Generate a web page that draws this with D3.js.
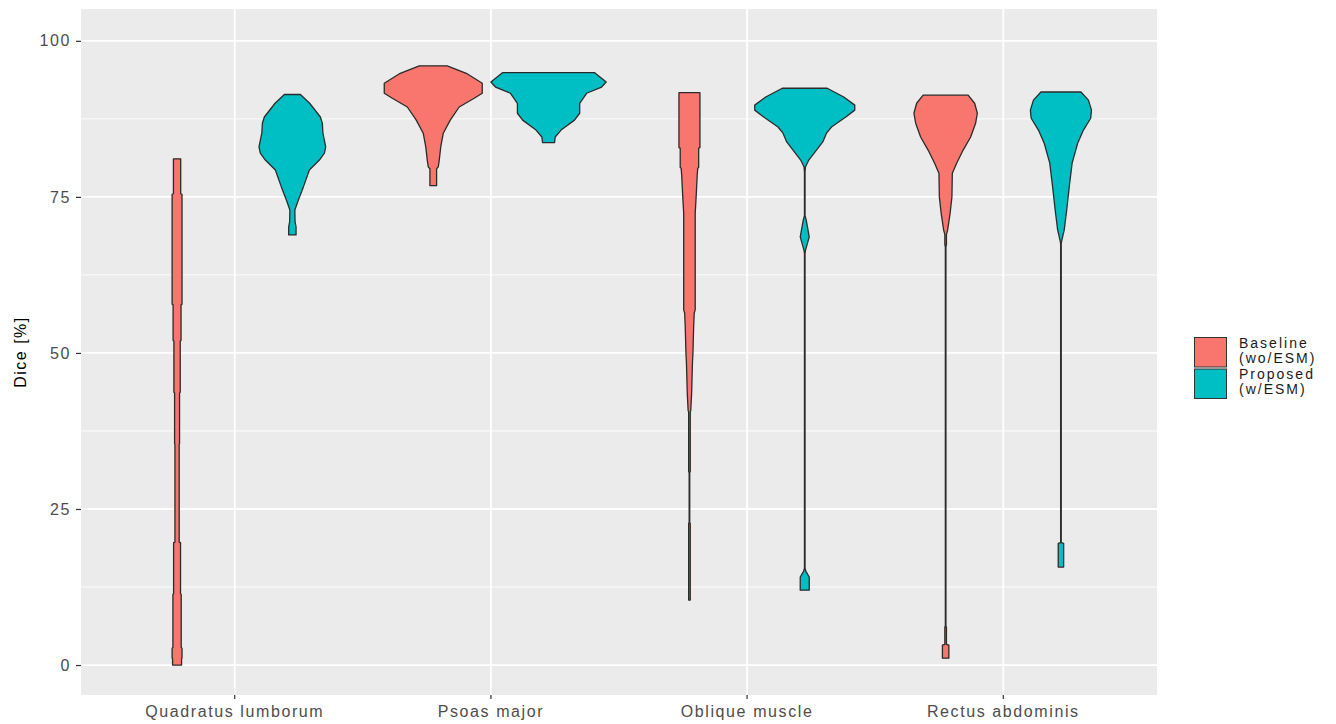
<!DOCTYPE html>
<html>
<head>
<meta charset="utf-8">
<script src="https://cdn.jsdelivr.net/npm/d3@7"></script>
<style>
  body { margin: 0; background: #fff; }
  text { font-family: "Liberation Sans", Arial, sans-serif; }
</style>
</head>
<body>
<div id="chart"></div>
<script>
// categories and groups
const muscles = ["Quadratus lumborum", "Psoas major", "Oblique muscle", "Rectus abdominis"];
const groups = ["Baseline\n(wo/ESM)", "Proposed\n(w/ESM)"];
const groupColors = ["#F8766D", "#00BFC4"];
const yTicks = [0, 25, 50, 75, 100];
const yMinor = [12.5, 37.5, 62.5, 87.5];

// violin profiles: [dice %, relative density (100 = widest)]
const quadratusBase = [[81.1,6.3],[75.5,6.3],[75.4,8.6],[57.8,8.6],[57.7,6.9],[52.0,6.9],[51.9,5.5],[43.7,5.5],[43.6,4.3],[35.5,4.3],[35.4,3.7],[19.7,3.7],[19.6,6.0],[11.4,6.0],[11.3,7.2],[2.8,7.2],[2.7,8.6],[1.1,8.6],[1.0,7.8],[0,7.8]];
const quadratusProp = [[91.4,13.9],[90.0,30],[87.8,48.6],[86.8,52],[85.2,53],[83.0,57.9],[82.0,55.6],[80.9,46.9],[79.3,29.5],[76.6,19.1],[74.5,10.4],[72.9,4.3],[71.0,4.7],[70.2,6.4],[68.9,6.4]];
const psoasBase = [[96.0,24.3],[94.8,57.3],[93.2,85],[91.6,85],[90.8,71],[89.4,45],[87.3,29.5],[85.2,17.4],[83.0,13],[80.9,10.4],[79.8,8.7],[79.5,5.8],[76.8,5.8]];
const psoasProp = [[94.9,80],[93.4,100],[92.6,92],[91.6,66],[90.0,54],[88.4,54],[87.3,45],[85.7,21.7],[84.6,11.6],[83.7,10.4]];
const obliqueBase = [[91.7,18.2],[82.9,18.2],[82.8,16],[79.7,16],[79.6,14.4],[78.5,13.5],[75.0,11.6],[72.4,10],[56.9,10],[56.4,8.3],[54.2,7.3],[50.0,6.1],[48.4,5.2],[43.6,3.8],[40.8,2.3],[40.5,1.4],[31.0,1.4],[30.8,0.5],[22.8,0.5],[22.7,1.4],[10.4,1.4]];
const obliqueProp = [[92.4,39],[91.0,67.7],[89.7,86.8],[88.9,86.8],[87.8,71.2],[86.2,46.4],[85.2,37.7],[83.8,31.3],[82.5,20.3],[80.9,7],[79.8,1.2],[79.0,0.5],[72.0,0.5],[71.3,2.5],[68.6,7.8],[66.5,1.5],[66.0,0.5],[15.5,0.5],[15.0,2],[14.1,7.8],[12.0,7.8]];
const rectusBase = [[91.3,39],[90.0,50.3],[88.4,55],[86.8,52],[84.6,43.4],[82.5,30.4],[80.4,19.1],[78.8,11.6],[75.0,10.9],[72.4,7.8],[69.7,3.5],[69.0,1.4],[67.3,1.4],[67.0,0.5],[6.2,0.5],[6.1,1.4],[3.3,1.4],[3.2,5.6],[1.1,5.6]];
const rectusProp = [[91.8,34.7],[90.5,47.7],[88.9,53],[87.6,51.6],[85.7,39],[83.6,29],[80.4,19.4],[76.6,14.4],[72.9,10],[69.7,5.7],[68.1,1.7],[67.5,0.5],[19.6,0.5],[19.5,4.7],[15.7,4.7]];

const violins = [
    { muscle: muscles[0], group: 0, profile: quadratusBase },
    { muscle: muscles[0], group: 1, profile: quadratusProp },
    { muscle: muscles[1], group: 0, profile: psoasBase },
    { muscle: muscles[1], group: 1, profile: psoasProp },
    { muscle: muscles[2], group: 0, profile: obliqueBase },
    { muscle: muscles[2], group: 1, profile: obliqueProp },
    { muscle: muscles[3], group: 0, profile: rectusBase },
    { muscle: muscles[3], group: 1, profile: rectusProp }
];

const width = 1336, height = 724;
const panel = { left: 81, right: 1157, top: 9, bottom: 695 };

const svg = d3.select("#chart")
    .append("svg")
    .attr("width", width)
    .attr("height", height);

// scales
const xScale = d3.scaleBand()
    .domain(muscles)
    .range([panel.left, panel.right])
    .paddingInner(0)
    .paddingOuter(0.1);

const subScale = d3.scaleBand()
    .domain([0, 1])
    .range([0, xScale.bandwidth()])
    .paddingInner(0)
    .paddingOuter(0.111);

const yScale = d3.scaleLinear()
    .domain([-4.8, 105.1])
    .range([panel.bottom, panel.top]);

const widthScale = d3.scaleLinear()
    .domain([0, 100])
    .range([0, subScale.bandwidth() / 2]);

// panel background and grid
svg.append("rect")
    .attr("x", panel.left)
    .attr("y", panel.top)
    .attr("width", panel.right - panel.left)
    .attr("height", panel.bottom - panel.top)
    .attr("fill", "#EBEBEB");

svg.selectAll(".minor")
    .data(yMinor)
    .enter().append("line")
    .attr("x1", panel.left).attr("x2", panel.right)
    .attr("y1", d => yScale(d)).attr("y2", d => yScale(d))
    .attr("stroke", "#fff").attr("stroke-width", 0.9);

svg.selectAll(".major")
    .data(yTicks)
    .enter().append("line")
    .attr("x1", panel.left).attr("x2", panel.right)
    .attr("y1", d => yScale(d)).attr("y2", d => yScale(d))
    .attr("stroke", "#fff").attr("stroke-width", 1.8);

svg.selectAll(".vgrid")
    .data(muscles)
    .enter().append("line")
    .attr("x1", d => xScale(d) + xScale.bandwidth() / 2)
    .attr("x2", d => xScale(d) + xScale.bandwidth() / 2)
    .attr("y1", panel.top).attr("y2", panel.bottom)
    .attr("stroke", "#fff").attr("stroke-width", 1.8);

// violins
const area = d3.area()
    .y(d => yScale(d[0]));

svg.selectAll(".violin")
    .data(violins)
    .enter().append("path")
    .attr("d", v => {
        const cx = xScale(v.muscle) + subScale(v.group) + subScale.bandwidth() / 2;
        return area
            .x0(d => cx - widthScale(d[1]))
            .x1(d => cx + widthScale(d[1]))(v.profile);
    })
    .attr("fill", v => groupColors[v.group])
    .attr("stroke", "#2B2B2B")
    .attr("stroke-width", 1.3)
    .attr("stroke-linejoin", "round");

// axes
const yAxis = svg.append("g")
    .attr("transform", `translate(${panel.left},0)`)
    .call(d3.axisLeft(yScale).tickValues(yTicks).tickSize(5).tickPadding(5));

const xAxis = svg.append("g")
    .attr("transform", `translate(0,${panel.bottom})`)
    .call(d3.axisBottom(xScale).tickSize(4).tickPadding(7));

[yAxis, xAxis].forEach(ax => {
    ax.select(".domain").remove();
    ax.selectAll(".tick line").attr("stroke", "#333333").attr("stroke-width", 1.2);
    ax.selectAll(".tick text")
        .attr("fill", "#4D4D4D")
        .style("font-size", "16px")
        .style("font-family", "'Liberation Sans', Arial, sans-serif")
        .style("letter-spacing", "1.6px");
});

// y axis title
svg.append("text")
    .attr("transform", `translate(26,${(panel.top + panel.bottom) / 2}) rotate(-90)`)
    .attr("text-anchor", "middle")
    .attr("fill", "#000")
    .style("font-size", "16px")
    .style("letter-spacing", "1.5px")
    .text("Dice [%]");

// legend
const legend = svg.append("g")
    .attr("transform", "translate(1194,337)");

const keys = legend.selectAll(".key")
    .data(groups)
    .enter().append("g")
    .attr("transform", (d, i) => `translate(0,${i * 31.5})`);

keys.append("rect")
    .attr("x", 0.5).attr("y", 0.5)
    .attr("width", 32).attr("height", 29.5)
    .attr("fill", (d, i) => groupColors[i])
    .attr("stroke", "#333333")
    .attr("stroke-width", 1);

keys.append("text")
    .attr("x", 45)
    .attr("y", 10.5)
    .attr("fill", "#1A1A1A")
    .style("font-size", "14px")
    .style("letter-spacing", "2px")
    .selectAll("tspan")
    .data(d => d.split("\n"))
    .enter().append("tspan")
    .attr("x", 45)
    .attr("dy", (d, i) => i === 0 ? 0 : 15)
    .text(d => d);
</script>
</body>
</html>
